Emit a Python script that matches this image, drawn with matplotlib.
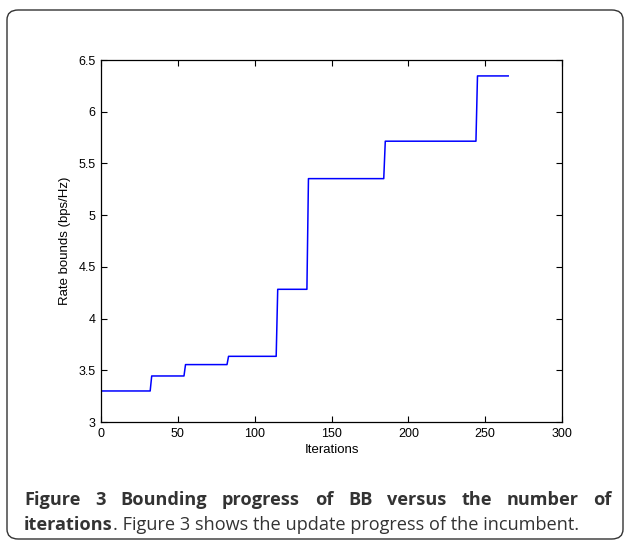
import matplotlib
matplotlib.use("Agg")
import matplotlib.pyplot as plt
from matplotlib.patches import FancyBboxPatch

# incumbent rate bound at each update (iteration, value)
iters = [0, 32, 33, 54, 55, 82, 83, 114, 115, 134, 135, 184, 185, 244, 245, 265]
rates = [3.30, 3.30, 3.445, 3.445, 3.555, 3.555, 3.635, 3.635, 4.283, 4.283,
         5.353, 5.353, 5.715, 5.715, 6.346, 6.346]

xticks = [0, 50, 100, 150, 200, 250, 300]
yticks = [3, 3.5, 4, 4.5, 5, 5.5, 6, 6.5]
ytick_labels = ["3", "3.5", "4", "4.5", "5", "5.5", "6", "6.5"]

caption1 = "Figure 3 Bounding progress of BB versus the number of"
caption2_bold = "iterations"
caption2_rest = ". Figure 3 shows the update progress of the incumbent."

W, H = 625, 541
fig = plt.figure(figsize=(W / 100, H / 100), dpi=100)

# rounded frame around the figure (top at 10px, bottom at ~539px)
frame = FancyBboxPatch((7 / W, 2 / H), 616 / W, 529 / H,
                       boxstyle="round,pad=0,rounding_size=0.018",
                       transform=fig.transFigure, fill=False,
                       edgecolor="#333333", linewidth=1.0)
fig.patches.append(frame)

ax = fig.add_axes([101 / W, 1 - 422 / H, 461 / W, 362 / H])
ax.plot(iters, rates, color="blue", linewidth=1.1)
ax.set_xlim(0, 300)
ax.set_ylim(3, 6.5)
ax.set_xticks(xticks)
ax.set_yticks(yticks)
ax.set_yticklabels(ytick_labels)
ax.tick_params(direction="in", length=4, width=0.8, top=True, right=True,
               labelsize=9)
ax.tick_params(axis="x", pad=4)
ax.tick_params(axis="y", pad=4)
for lab in ax.get_xticklabels() + ax.get_yticklabels():
    lab.set_family("Liberation Sans")
for sp in ax.spines.values():
    sp.set_linewidth(0.9)
ax.set_xlabel("Iterations", family="Liberation Sans", fontsize=9.5, labelpad=3)
ax.set_ylabel("Rate bounds (bps/Hz)", family="Liberation Sans", fontsize=9.5,
              labelpad=5)

# caption, first line justified between x=24 and x=612
cap_color = "#333333"
cap_size = 13.1
fig.canvas.draw()
renderer = fig.canvas.get_renderer()
words = caption1.split(" ")
texts = []
for w in words:
    t = fig.text(0, 0, w, fontsize=cap_size, family="Open Sans",
                 weight="bold", color=cap_color)
    texts.append(t)
widths = [t.get_window_extent(renderer).width for t in texts]
left, right = 24, 612
gap = (right - left - sum(widths)) / (len(words) - 1)
x = left
for t, wd in zip(texts, widths):
    t.set_position((x / W, 1 - 505 / H))
    x += wd + gap

t2 = fig.text(24 / W, 1 - 530 / H, caption2_bold, fontsize=cap_size,
              family="Open Sans", weight="bold", color=cap_color)
w2 = t2.get_window_extent(renderer).width
fig.text((24 + w2) / W, 1 - 530 / H, caption2_rest, fontsize=cap_size,
         family="Open Sans", color=cap_color)

fig.savefig("out.png", dpi=100)
